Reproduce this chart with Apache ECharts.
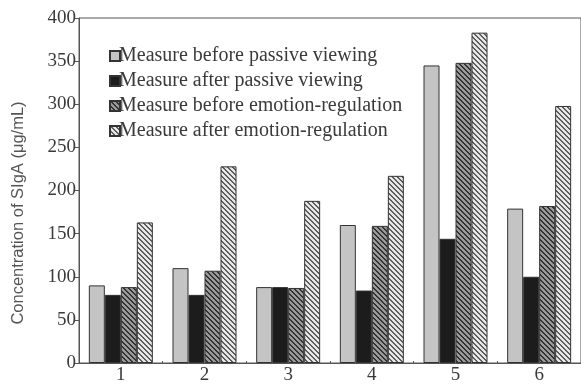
<!DOCTYPE html>
<html lang="en">
<head>
    <meta charset="UTF-8">
    <title>SIgA concentration</title>
    <script src="https://cdnjs.cloudflare.com/ajax/libs/echarts/6.0.0/echarts.min.js"></script>
    <style>
        body { margin: 0; background: #fff; }
        #chart { width: 581px; height: 385px; }
    </style>
</head>
<body>
<div id="chart"></div>
<script>
const categories = ['1', '2', '3', '4', '5', '6'];
const seriesNames = [
    'Measure before passive viewing',
    'Measure after passive viewing',
    'Measure before emotion-regulation',
    'Measure after emotion-regulation'
];
const beforePassive = [90, 110, 88, 160, 345, 179];
const afterPassive = [79, 79, 88, 84, 144, 100];
const beforeRegulation = [88, 107, 87, 159, 348, 182];
const afterRegulation = [163, 228, 188, 217, 383, 298];

// striped fill, "\" direction
function stripes(bg, fg, size, width) {
    const c = document.createElement('canvas');
    c.width = size; c.height = size;
    const ctx = c.getContext('2d');
    ctx.fillStyle = bg;
    ctx.fillRect(0, 0, size, size);
    ctx.fillStyle = fg;
    for (let x = 0; x < size; x++) {
        for (let y = 0; y < size; y++) {
            if ((((x - y) % size) + size) % size < width) ctx.fillRect(x, y, 1, 1);
        }
    }
    return { image: c, repeat: 'repeat' };
}

const fills = [
    '#c4c4c4',
    '#1c1c1c',
    stripes('#9a9a9a', '#333333', 5, 2),
    stripes('#e6e6e6', '#5e5e5e', 5, 2)
];
const values = [beforePassive, afterPassive, beforeRegulation, afterRegulation];

const serif = 'Liberation Serif';
const chart = echarts.init(document.getElementById('chart'));
chart.setOption({
    animation: false,
    grid: { left: 79, top: 18, right: -6, bottom: 19, show: true, borderColor: '#555', borderWidth: 1 },
    legend: {
        orient: 'vertical',
        left: 104, top: 41,
        icon: 'rect',
        itemWidth: 10, itemHeight: 10,
        itemGap: 5,
        textStyle: { fontFamily: serif, fontSize: 20, color: '#3a3a3a', padding: [0, 0, 0, -6] },
        data: seriesNames
    },
    xAxis: {
        type: 'category',
        data: categories,
        axisLine: { lineStyle: { color: '#555' } },
        axisTick: { show: true, inside: true, length: 2, lineStyle: { color: '#555' } },
        axisLabel: { fontFamily: serif, fontSize: 19, color: '#3a3a3a', margin: 3 }
    },
    yAxis: {
        type: 'value',
        min: 0, max: 400, interval: 50,
        axisLine: { show: true, lineStyle: { color: '#555' } },
        axisTick: { show: true, length: 4, lineStyle: { color: '#555' } },
        splitLine: { show: false },
        axisLabel: { fontFamily: serif, fontSize: 19, color: '#3a3a3a', margin: 3 }
    },
    graphic: [{
        type: 'text',
        x: 18, y: 213,
        rotation: Math.PI / 2,
        style: {
            text: 'Concentration of SIgA (\u03bcg/mL)',
            font: '16.5px "Liberation Sans"',
            fill: '#555',
            textAlign: 'center',
            textVerticalAlign: 'middle'
        }
    }],
    series: seriesNames.map((name, i) => ({
        name: name,
        type: 'bar',
        data: values[i],
        barWidth: 16,
        barGap: '0%',
        itemStyle: { color: fills[i], borderColor: '#333', borderWidth: 1 }
    }))
});
</script>
</body>
</html>
